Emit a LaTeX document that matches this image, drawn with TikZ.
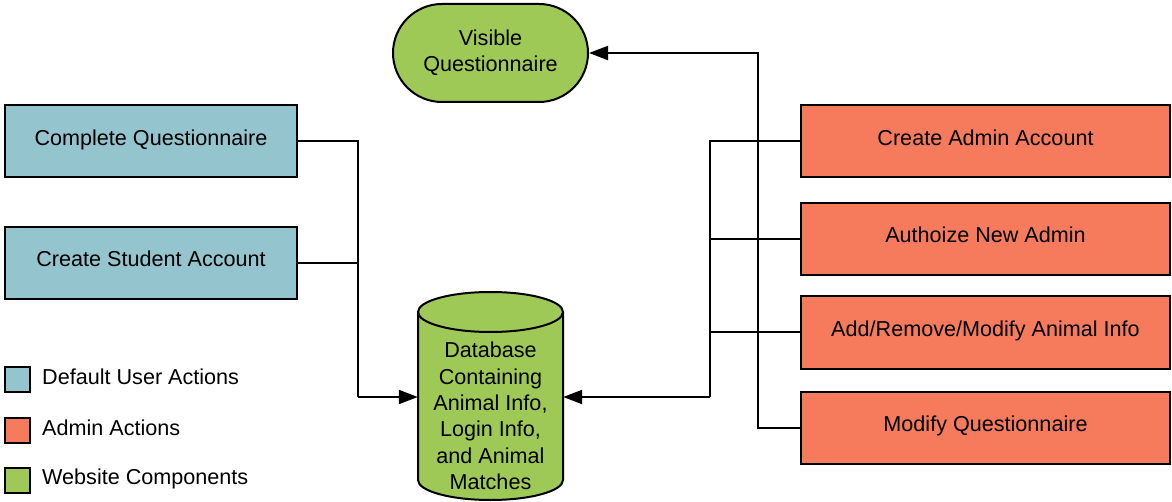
\documentclass[tikz,border=0pt]{standalone}
\usepackage{fontspec}
\setmainfont{Liberation Sans}
\usetikzlibrary{arrows.meta}
\definecolor{ublue}{RGB}{148,196,205}
\definecolor{aorange}{RGB}{246,122,92}
\definecolor{wgreen}{RGB}{158,201,87}
\begin{document}
\begin{tikzpicture}[x=1pt,y=-1pt,
  every node/.style={font=\fontsize{21.6}{26.4}\selectfont},
  userbox/.style={draw=black,line width=2pt,fill=ublue,minimum width=292pt,minimum height=72pt,inner sep=0pt,text height=15pt,text depth=7pt},
  adminbox/.style={draw=black,line width=2pt,fill=aorange,minimum width=369pt,minimum height=72pt,inner sep=0pt,text height=15pt,text depth=7pt},
  stadium/.style={draw=black,line width=2pt,fill=wgreen,minimum width=195pt,minimum height=98pt,rounded corners=49pt,align=center,inner sep=0pt},
  legsq/.style={draw=black,line width=2pt,minimum width=25pt,minimum height=25pt,inner sep=0pt},
  legtxt/.style={anchor=west,inner sep=0pt},
  conn/.style={line width=2pt},
  arr/.style={line width=2pt,-{Triangle[length=19pt,width=14pt]}}
]
\useasboundingbox (0,0) rectangle (1172,502);
% cylinder
\filldraw[fill=wgreen,draw=black,line width=2pt]
  (418,312) -- (418,480) arc[start angle=180,end angle=360,x radius=72.5pt,y radius=20pt]
  -- (563,312) arc[start angle=0,end angle=180,x radius=72.5pt,y radius=20pt] -- cycle;
\draw[line width=2pt] (418,312) arc[start angle=180,end angle=360,x radius=72.5pt,y radius=20pt];
\node[align=center,minimum width=145pt,inner sep=0pt] (db) at (490.5,416) {Database\\Containing\\Animal Info,\\Login Info,\\and Animal\\Matches};

\node[stadium] (vq) at (490.5,53) {Visible\\Questionnaire};

\node[userbox] (cq) at (151,141.5) {Complete Questionnaire};
\node[userbox] (csa) at (151,263) {Create Student Account};

\node[adminbox] (caa) at (985.5,141.5) {Create Admin Account};
\node[adminbox] (ana) at (985.5,239) {Authoize New Admin};
\node[adminbox] (arm) at (985.5,332.5) {Add/Remove/Modify Animal Info};
\node[adminbox] (mq) at (985.5,427.5) {Modify Questionnaire};

% legend
\node[legsq,fill=ublue] (l1) at (17.5,379) {};
\node[legsq,fill=aorange] (l2) at (17.5,430) {};
\node[legsq,fill=wgreen] (l3) at (17.5,480.5) {};
\node[legtxt] (t1) at (42,377) {Default User Actions};
\node[legtxt] (t2) at (42,428) {Admin Actions};
\node[legtxt] (t3) at (42,479) {Website Components};

% connectors
\coordinate (jl) at (357.5,397);
\coordinate (jr) at (710,397);
\coordinate (jt) at (758,53);
\draw[conn] (cq.east) -| (jl);
\draw[conn] (csa.east) -| (jl);
\draw[arr] (jl) -- (jl -| db.west);
\draw[conn] (caa.west) -| (jr);
\draw[conn] (ana.west) -| (jr);
\draw[conn] (arm.west) -| (jr);
\draw[arr] (jr) -- (jr -| db.east);
\draw[arr] (mq.west) -| (jt) -- (vq.east);
\end{tikzpicture}
\end{document}
